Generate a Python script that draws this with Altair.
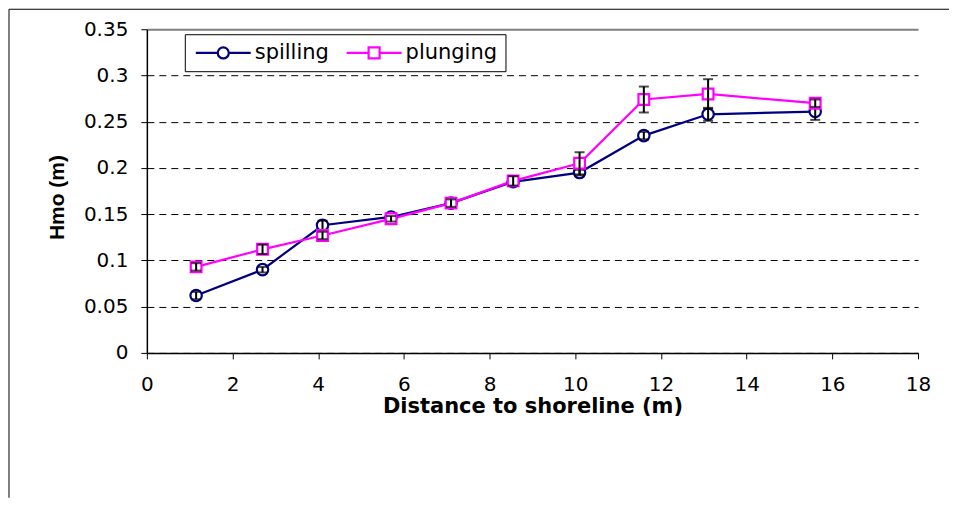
import altair as alt
import pandas as pd

# ---- data ----
distance = [1.15, 2.7, 4.1, 5.7, 7.1, 8.55, 10.1, 11.6, 13.1, 15.6]
spilling = [0.062, 0.090, 0.138, 0.147, 0.162, 0.185, 0.195, 0.235, 0.258, 0.261]
spilling_err = [0.004, 0.003, 0.005, 0.003, 0.003, 0.004, 0.003, 0.004, 0.007, 0.009]
plunging = [0.093, 0.112, 0.127, 0.145, 0.162, 0.186, 0.205, 0.274, 0.280, 0.270]
plunging_err = [0.004, 0.005, 0.004, 0.003, 0.004, 0.005, 0.012, 0.014, 0.016, 0.004]
series_names = ["spilling", "plunging"]
series_colors = ["#000080", "#FF00FF"]
series_shapes = ["circle", "square"]
x_ticks = [0, 2, 4, 6, 8, 10, 12, 14, 16, 18]
y_ticks = [0, 0.05, 0.1, 0.15, 0.2, 0.25, 0.3, 0.35]

rows = []
for name, vals, errs in [("spilling", spilling, spilling_err), ("plunging", plunging, plunging_err)]:
    for xv, yv, ev in zip(distance, vals, errs):
        rows.append({"series": name, "x": xv, "y": yv, "lo": yv - ev, "hi": yv + ev})
df = pd.DataFrame(rows)

W, H = 772, 324

x_enc = alt.X(
    "x:Q",
    scale=alt.Scale(domain=[0, 18], nice=False, zero=False),
    axis=alt.Axis(
        values=x_ticks, title="Distance to shoreline (m)", grid=False,
        labelFont="DejaVu Sans", labelFontSize=20, labelColor="black",
        labelPadding=16, tickSize=6, tickColor="black", domainColor="black", domainWidth=1.5,
        titleFont="DejaVu Sans", titleFontSize=21, titleFontWeight="bold", titleColor="black",
        titleBaseline="alphabetic", titleY=60,
        labelFlush=False,
    ),
)
y_enc = alt.Y(
    "y:Q",
    scale=alt.Scale(domain=[0, 0.35], nice=False),
    axis=alt.Axis(
        values=y_ticks, format="~g", title="Hmo (m)",
        labelFont="DejaVu Sans", labelFontSize=20, labelColor="black",
        labelPadding=13, tickSize=6, tickColor="black", domainColor="black", domainWidth=1.5,
        titleFont="Liberation Sans", titleFontSize=21, titleFontWeight="bold", titleColor="black",
        titleBaseline="alphabetic", titleX=-83, titleY=168,
        grid=True,
        gridColor={"condition": {"test": "datum.value >= 0.34", "value": "#808080"}, "value": "black"},
        gridDash={"condition": {"test": "datum.value >= 0.34", "value": []}, "value": [7, 5]},
        gridWidth={"condition": {"test": "datum.value >= 0.34", "value": 2}, "value": 1},
        labelFlush=False,
    ),
)

layers = []
for name, col, shp in zip(series_names, series_colors, series_shapes):
    sub = alt.Chart(df).transform_filter(alt.datum.series == name)
    layers.append(sub.mark_line(strokeWidth=2.2, color=col).encode(x=x_enc, y=y_enc))
for name, col, shp in zip(series_names, series_colors, series_shapes):
    sub = alt.Chart(df).transform_filter(alt.datum.series == name)
    layers.append(
        sub.mark_point(shape=shp, filled=False, fill="white", fillOpacity=1, stroke=col,
                       size=130 if shp == "circle" else 115, strokeWidth=2.2, opacity=1)
        .encode(x="x:Q", y="y:Q")
    )
    layers.append(sub.mark_rule(color="black", strokeWidth=2).encode(x="x:Q", y="lo:Q", y2="hi:Q"))
    layers.append(sub.mark_tick(color="black", orient="horizontal", size=10, thickness=2).encode(x="x:Q", y="lo:Q"))
    layers.append(sub.mark_tick(color="black", orient="horizontal", size=10, thickness=2).encode(x="x:Q", y="hi:Q"))

circle_path = "M-5,0H-1M1,0H5M-1,0A1,1 0 1,1 1,0A1,1 0 1,1 -1,0"
square_path = "M-5,0H-1M1,0H5M-1,-1H1V1H-1Z"

legend_layer = alt.Chart(df).mark_point(filled=False, opacity=0, strokeWidth=2).encode(
    x="x:Q", y="y:Q",
    color=alt.Color(
        "series:N",
        scale=alt.Scale(domain=series_names, range=series_colors),
        legend=alt.Legend(
            title=None, orient="none", legendX=38, legendY=5, direction="horizontal",
            labelFont="DejaVu Sans", labelFontSize=21, labelColor="black",
            symbolSize=121, symbolStrokeWidth=2.2, symbolOpacity=1, symbolFillColor="white",
            symbolOffset=20, labelOffset=21, columnPadding=12,
            strokeColor="black", fillColor="white", padding=8, cornerRadius=0,
        ),
    ),
    shape=alt.Shape(
        "series:N",
        scale=alt.Scale(domain=series_names, range=[circle_path, square_path]),
        legend=alt.Legend(title=None),
    ),
)
layers.append(legend_layer)

frame_df = pd.DataFrame({"k": [0]})
layers.append(alt.Chart(frame_df).mark_rule(color="black", strokeWidth=1).encode(
    x=alt.value(-138), y=alt.value(-20), y2=alt.value(469)
))
layers.append(alt.Chart(frame_df).mark_rule(color="black", strokeWidth=1).encode(
    x=alt.value(-138), x2=alt.value(803), y=alt.value(-20)
))

chart = alt.layer(*layers).properties(
    width=W, height=H, padding=0, background="white"
).configure_view(stroke=None)

chart.save("out.html", embed_options={"renderer": "svg", "actions": False})
